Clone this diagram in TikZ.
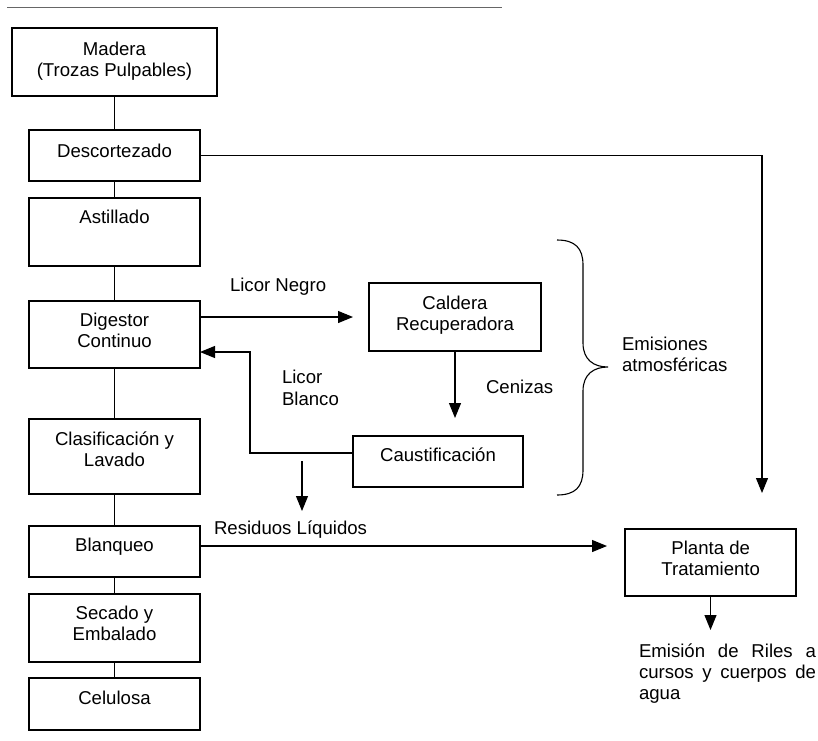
\documentclass[tikz,border=0pt]{standalone}
\usepackage{fontspec}
\setmainfont{Liberation Sans}
\usetikzlibrary{arrows.meta}
\begin{document}
\begin{tikzpicture}[x=1pt,y=-1pt,
  box/.style={draw=black,line width=1.1pt,inner sep=0pt,outer sep=0pt,anchor=north west},
  txt/.style={inner sep=0pt,outer sep=0pt,align=center,font=\fontsize{18.6}{21.3}\selectfont,anchor=base},
  ln/.style={line width=1.1pt},
  arr/.style={line width=1.1pt,-{Triangle[length=15pt,width=12pt]}}]
\useasboundingbox (0,0) rectangle (818,740);
% top rule
\draw[line width=1.2pt,black!60] (7,7.5) -- (502,7.5);
% left column boxes
\node[box,minimum width=205pt,minimum height=68pt] (mad) at (12,28) {};
\node[box,minimum width=171pt,minimum height=51pt] (desc) at (29,130) {};
\node[box,minimum width=171pt,minimum height=68pt] (ast) at (29,198) {};
\node[box,minimum width=171pt,minimum height=67pt] (dig) at (29,301) {};
\node[box,minimum width=171pt,minimum height=75pt] (cla) at (29,419) {};
\node[box,minimum width=171pt,minimum height=51pt] (bla) at (29,526) {};
\node[box,minimum width=171pt,minimum height=68pt] (sec) at (29,594) {};
\node[box,minimum width=171pt,minimum height=52pt] (cel) at (29,678) {};
% other boxes
\node[box,minimum width=172pt,minimum height=68pt] (cal) at (369,283) {};
\node[box,minimum width=170pt,minimum height=51pt] (cau) at (353,436) {};
\node[box,minimum width=171pt,minimum height=67pt] (pla) at (625,529) {};
% texts in boxes (base = last line baseline)
\node[txt] (tmad) at (114.5,76.5) {Madera\\(Trozas Pulpables)};
\node[txt] (tdesc) at (114.5,157) {Descortezado};
\node[txt] (tast) at (114.5,223) {Astillado};
\node[txt] (tdig) at (114.5,347.5) {Digestor\\Continuo};
\node[txt] (tcla) at (114.5,466.7) {Clasificación y\\Lavado};
\node[txt] (tbla) at (114.5,551.7) {Blanqueo};
\node[txt] (tsec) at (114.5,640.5) {Secado y\\Embalado};
\node[txt] (tcel) at (114.5,704) {Celulosa};
\node[txt] (tcal) at (455,330.7) {Caldera\\Recuperadora};
\node[txt] (tcau) at (438,461.7) {Caustificación};
\node[txt] (tpla) at (710.7,575.5) {Planta de\\Tratamiento};
% free labels
\node[txt,anchor=base west] (lneg) at (230,291.7) {Licor Negro};
\node[txt,anchor=base west,align=left] (lbla) at (282,405) {Licor\\Blanco};
\node[txt,anchor=base west] (lcen) at (486,393.3) {Cenizas};
\node[txt,anchor=base west,align=left] (lemi) at (622,371.5) {Emisiones\\atmosféricas};
\node[txt,anchor=base west] (lres) at (214,534) {Residuos Líquidos};
\node[txt,anchor=base west,text width=177pt,align=justify] (lril) at (639,657) {Emisión de Riles a\linebreak cursos y cuerpos de\linebreak agua};
% vertical connectors
\draw[ln] (mad.south) -- (desc.north);
\draw[ln] (desc.south) -- (ast.north);
\draw[ln] (ast.south) -- (dig.north);
\draw[ln] (dig.south) -- (cla.north);
\draw[ln] (cla.south) -- (bla.north);
\draw[ln] (bla.south) -- (sec.north);
\draw[ln] (sec.south) -- (cel.north);
% Descortezado to Planta
\coordinate (dtip) at (762,493);
\draw[arr] (desc.east) -- (desc.east -| dtip) -- (dtip);
% Licor negro
\coordinate (lnA) at (dig.east |- 0,317);
\coordinate (lnB) at (353,317);
\draw[arr] (lnA) -- (lnB);
% Licor blanco
\coordinate (lbA) at (cau.west |- 0,453);
\coordinate (lbB) at (dig.east |- 0,352);
\draw[arr] (lbA) -- (250,453) -- (250,352) -- (lbB);
% Cenizas
\coordinate (cenB) at (455,418);
\draw[arr] (cal.south) -- (cenB);
% small arrow
\coordinate (saA) at (302,461);
\coordinate (saB) at (302,511);
\draw[arr] (saA) -- (saB);
% Residuos
\coordinate (reA) at (bla.east |- 0,546);
\coordinate (reB) at (607,546);
\draw[arr] (reA) -- (reB);
% Planta out
\coordinate (plB) at (pla.south |- 0,630);
\draw[arr] (pla.south) -- (plB);
% brace
\draw[ln] (557,240) .. controls (575,240) and (583,248) .. (583,265) -- (583,343)
  .. controls (583,360) and (594,367) .. (608,367)
  .. controls (594,367) and (583,374) .. (583,391) -- (583,470)
  .. controls (583,487) and (575,495) .. (557,495);
\end{tikzpicture}
\end{document}
